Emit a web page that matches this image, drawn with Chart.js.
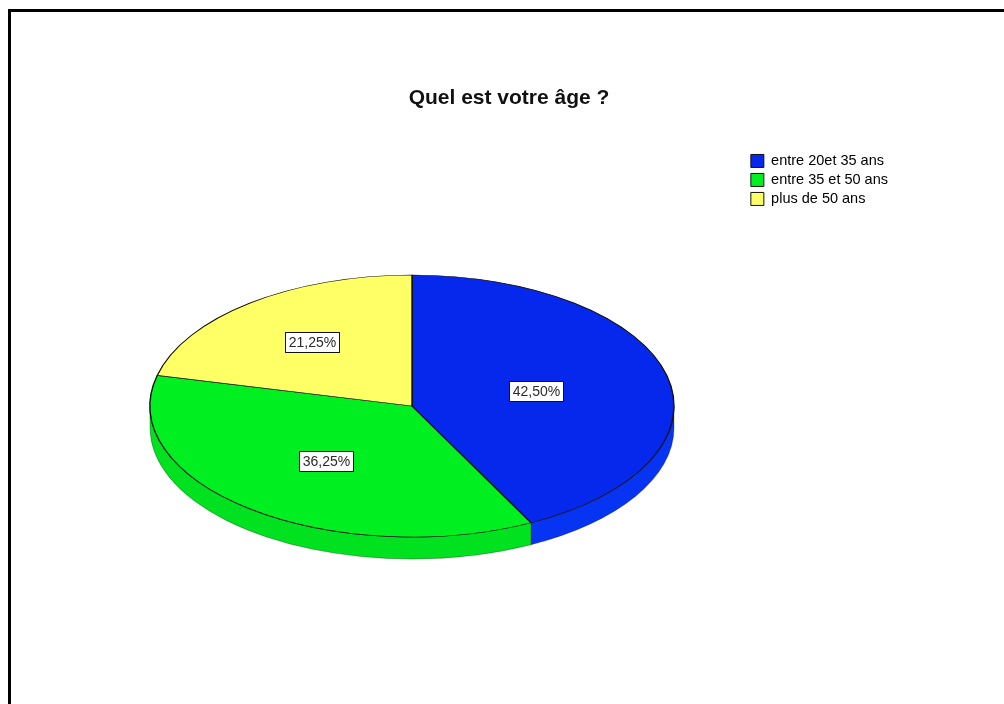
<!DOCTYPE html>
<html lang="fr">
<head>
<meta charset="utf-8">
<title>Quel est votre âge ?</title>
<script src="https://cdn.jsdelivr.net/npm/chart.js@4/dist/chart.umd.min.js"></script>
<style>
  html, body { margin: 0; padding: 0; background: #ffffff; }
  canvas { display: block; }
</style>
</head>
<body>
<canvas id="chart" width="1004" height="704"></canvas>
<script>
// Age groups and their share of respondents (percent)
const categories = ['entre 20et 35 ans', 'entre 35 et 50 ans', 'plus de 50 ans'];
const percentages = [42.50, 36.25, 21.25];
const topColors = ['#0628ec', '#00ef20', '#ffff66'];
const sideColors = ['#0733f3', '#00e21f', '#e6e650'];

const formatPct = v => v.toFixed(2).replace('.', ',') + '%';

// Tilted "3D" pie: walls are drawn first, then the library's arcs are
// squashed vertically around the same centre, then the value boxes.
const pie3d = {
  id: 'pie3d',
  beforeDatasetsDraw(chart, args, opts) {
    const ctx = chart.ctx;
    const arcs = chart.getDatasetMeta(0).data;
    if (!arcs.length) return;
    const { cx, cy, tilt, depth } = opts;
    const r = arcs[0].outerRadius;

    arcs.forEach((arc, i) => {
      const s0 = arc.startAngle, e0 = arc.endAngle;
      for (const k of [-2 * Math.PI, 0, 2 * Math.PI]) {
        const a = Math.max(s0 + k, 0);
        const b = Math.min(e0 + k, Math.PI);
        if (b <= a) continue;
        ctx.save();
        ctx.beginPath();
        ctx.ellipse(cx, cy, r, r * tilt, 0, a, b);
        ctx.ellipse(cx, cy + depth, r, r * tilt, 0, b, a, true);
        ctx.closePath();
        ctx.fillStyle = sideColors[i];
        ctx.fill();
        ctx.lineWidth = 0.8;
        ctx.strokeStyle = 'rgba(0,0,0,0.35)';
        ctx.stroke();
        ctx.restore();
      }
    });

    ctx.save();
    ctx.translate(cx, cy);
    ctx.scale(1, tilt);
    ctx.translate(-arcs[0].x, -arcs[0].y);
  },
  afterDatasetsDraw(chart, args, opts) {
    const ctx = chart.ctx;
    ctx.restore();
    const arcs = chart.getDatasetMeta(0).data;
    const { cx, cy, tilt } = opts;
    const values = chart.data.datasets[0].data;

    ctx.save();
    ctx.font = '14px "Liberation Sans", Arial, sans-serif';
    ctx.textAlign = 'center';
    ctx.textBaseline = 'middle';
    arcs.forEach((arc, i) => {
      const half = (arc.endAngle - arc.startAngle) / 2;
      const mid = arc.startAngle + half;
      // centroid of the circular sector
      const d = arc.outerRadius * 2 * Math.sin(half) / (3 * half);
      const x = cx + Math.cos(mid) * d;
      const y = cy + Math.sin(mid) * d * tilt;
      const text = formatPct(values[i]);
      const w = Math.round(ctx.measureText(text).width + 7);
      const h = 20;
      const bx = Math.round(x - w / 2) + 0.5, by = Math.round(y - h / 2) + 0.5;
      ctx.fillStyle = '#ffffff';
      ctx.fillRect(bx, by, w, h);
      ctx.lineWidth = 1;
      ctx.strokeStyle = '#111111';
      ctx.strokeRect(bx, by, w, h);
      ctx.fillStyle = '#2a2a2a';
      ctx.fillText(text, bx + w / 2, by + h / 2 + 1);
    });
    ctx.restore();
  }
};

// Black frame along the top and left edges of the page
const frame = {
  id: 'frame',
  afterDraw(chart) {
    const ctx = chart.ctx;
    ctx.save();
    ctx.strokeStyle = '#000000';
    ctx.lineWidth = 3;
    ctx.beginPath();
    ctx.moveTo(9.5, chart.height);
    ctx.lineTo(9.5, 10.5);
    ctx.lineTo(chart.width, 10.5);
    ctx.stroke();
    ctx.restore();
  }
};

new Chart(document.getElementById('chart'), {
  type: 'pie',
  data: {
    labels: categories,
    datasets: [{
      data: percentages,
      backgroundColor: topColors,
      borderColor: '#111111',
      borderWidth: 1.4,
      radius: 262,
      clip: false
    }]
  },
  plugins: [pie3d, frame],
  options: {
    responsive: false,
    animation: false,
    events: [],
    layout: { padding: { left: 120, right: 106, top: 0, bottom: 0 } },
    plugins: {
      title: {
        display: true,
        text: 'Quel est votre âge ?',
        color: '#111111',
        font: { family: '"Liberation Sans", Arial, sans-serif', size: 21, weight: 'bold' },
        padding: { top: 86, bottom: 38 }
      },
      legend: {
        position: 'right',
        align: 'start',
        fullSize: false,
        labels: {
          color: '#222222',
          font: { family: '"Liberation Sans", Arial, sans-serif', size: 14.5 },
          boxWidth: 13,
          boxHeight: 13,
          padding: 4.5,
          generateLabels(chart) {
            return chart.data.labels.map((label, i) => ({
              text: label,
              fillStyle: topColors[i],
              strokeStyle: '#111111',
              lineWidth: 1,
              hidden: false,
              index: i
            }));
          }
        }
      },
      tooltip: { enabled: false },
      pie3d: { cx: 412, cy: 406, tilt: 0.5, depth: 22 }
    }
  }
});
</script>
</body>
</html>
